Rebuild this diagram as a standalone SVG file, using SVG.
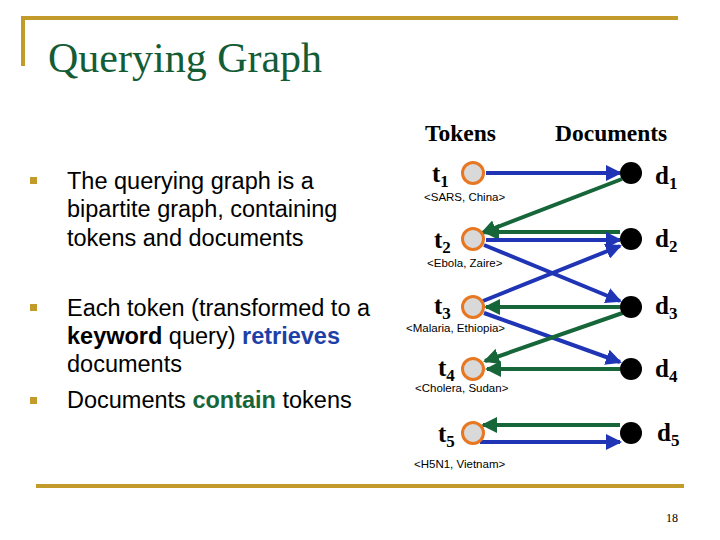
<svg xmlns="http://www.w3.org/2000/svg" width="720" height="540" viewBox="0 0 720 540">
<defs>
<marker id="ab" markerWidth="4" markerHeight="4" refX="3.5" refY="2" orient="auto" markerUnits="strokeWidth"><path d="M0,0 L4,2 L0,4 Z" fill="#1f35b5"/></marker>
<marker id="ag" markerWidth="4" markerHeight="4" refX="3.5" refY="2" orient="auto" markerUnits="strokeWidth"><path d="M0,0 L4,2 L0,4 Z" fill="#17663a"/></marker>
</defs>
<style>
.gold{stroke:#c39b2a;stroke-width:4;fill:none}
.bul{fill:#c39b2a}
.body{font-family:"Liberation Sans",Arial,sans-serif;font-size:23.5px;fill:#000}
.hd{font-family:"Liberation Serif","Times New Roman",serif;font-size:23.5px;font-weight:bold;fill:#000}
.lab{font-family:"Liberation Serif","Times New Roman",serif;font-size:25px;font-weight:bold;fill:#000}
.sub{font-size:17px}
.sm{font-family:"Liberation Sans",Arial,sans-serif;font-size:11.5px;fill:#000}
.tok{fill:#d9d9d9;stroke:#e87722;stroke-width:3}
.doc{fill:#000}
.b{stroke:#1f35b5;stroke-width:4;fill:none;marker-end:url(#ab)}
.g{stroke:#17663a;stroke-width:4;fill:none;marker-end:url(#ag)}
</style>
<rect width="720" height="540" fill="#fff"/>
<path class="gold" d="M23,66 V18 H678"/>
<path class="gold" d="M36,486 H684"/>
<text x="48" y="72" font-family="Liberation Serif,'Times New Roman',serif" font-size="42" fill="#145c36">Querying Graph</text>

<g id="bullets">
<rect class="bul" x="30" y="177" width="7" height="7"/>
<rect class="bul" x="30" y="304" width="7" height="7"/>
<rect class="bul" x="30" y="397" width="7" height="7"/>
<text class="body" x="67" y="189">The querying graph is a</text>
<text class="body" x="67" y="217">bipartite graph, containing</text>
<text class="body" x="67" y="246">tokens and documents</text>
<text class="body" x="67" y="316">Each token (transformed to a</text>
<text class="body" x="67" y="344"><tspan font-weight="bold">keyword</tspan> query) <tspan font-weight="bold" fill="#1f3fa8">retrieves</tspan></text>
<text class="body" x="67" y="372">documents</text>
<text class="body" x="67" y="408">Documents <tspan font-weight="bold" fill="#17663a">contain</tspan> tokens</text>
</g>

<text class="hd" x="425" y="141">Tokens</text>
<text class="hd" x="555" y="141">Documents</text>

<g id="connectors">
<line class="b" x1="486" y1="173" x2="620" y2="173"/>
<line class="g" x1="622" y1="179" x2="482" y2="233"/>
<line class="g" x1="620" y1="232" x2="485" y2="232"/>
<line class="b" x1="486" y1="240" x2="620" y2="240"/>
<line class="b" x1="484" y1="245" x2="620" y2="301"/>
<line class="b" x1="483" y1="301" x2="620" y2="246"/>
<line class="g" x1="620" y1="307" x2="486" y2="307"/>
<line class="b" x1="484" y1="313" x2="620" y2="362"/>
<line class="g" x1="634" y1="309" x2="485" y2="361"/>
<line class="g" x1="620" y1="369" x2="487" y2="369"/>
<line class="g" x1="620" y1="425" x2="483" y2="425"/>
<line class="b" x1="480" y1="442" x2="620" y2="442"/>
</g>

<g id="t1"><circle class="tok" cx="473" cy="173" r="10.5"/><text class="lab" x="432" y="182">t<tspan class="sub" dy="5">1</tspan></text><text class="sm" x="424" y="201">&lt;SARS, China&gt;</text></g>
<g id="t2"><circle class="tok" cx="473" cy="239" r="10.5"/><text class="lab" x="434" y="248">t<tspan class="sub" dy="5">2</tspan></text><text class="sm" x="427" y="267">&lt;Ebola, Zaire&gt;</text></g>
<g id="t3"><circle class="tok" cx="473" cy="307" r="10.5"/><text class="lab" x="434" y="314">t<tspan class="sub" dy="5">3</tspan></text><text class="sm" x="406" y="332">&lt;Malaria, Ethiopia&gt;</text></g>
<g id="t4"><circle class="tok" cx="473" cy="369" r="10.5"/><text class="lab" x="438" y="376">t<tspan class="sub" dy="5">4</tspan></text><text class="sm" x="415" y="392">&lt;Cholera, Sudan&gt;</text></g>
<g id="t5"><circle class="tok" cx="473" cy="433" r="10.5"/><text class="lab" x="438" y="442">t<tspan class="sub" dy="5">5</tspan></text><text class="sm" x="414" y="468">&lt;H5N1, Vietnam&gt;</text></g>

<g id="d1"><circle class="doc" cx="631" cy="173" r="11"/><text class="lab" x="655" y="184">d<tspan class="sub" dy="5">1</tspan></text></g>
<g id="d2"><circle class="doc" cx="631" cy="239" r="11"/><text class="lab" x="655" y="247">d<tspan class="sub" dy="5">2</tspan></text></g>
<g id="d3"><circle class="doc" cx="631" cy="307" r="11"/><text class="lab" x="655" y="314">d<tspan class="sub" dy="5">3</tspan></text></g>
<g id="d4"><circle class="doc" cx="631" cy="369" r="11"/><text class="lab" x="655" y="377">d<tspan class="sub" dy="5">4</tspan></text></g>
<g id="d5"><circle class="doc" cx="631" cy="433" r="11"/><text class="lab" x="657" y="441">d<tspan class="sub" dy="5">5</tspan></text></g>

<text x="666" y="522" font-family="Liberation Serif,'Times New Roman',serif" font-size="12" fill="#000">18</text>
</svg>
